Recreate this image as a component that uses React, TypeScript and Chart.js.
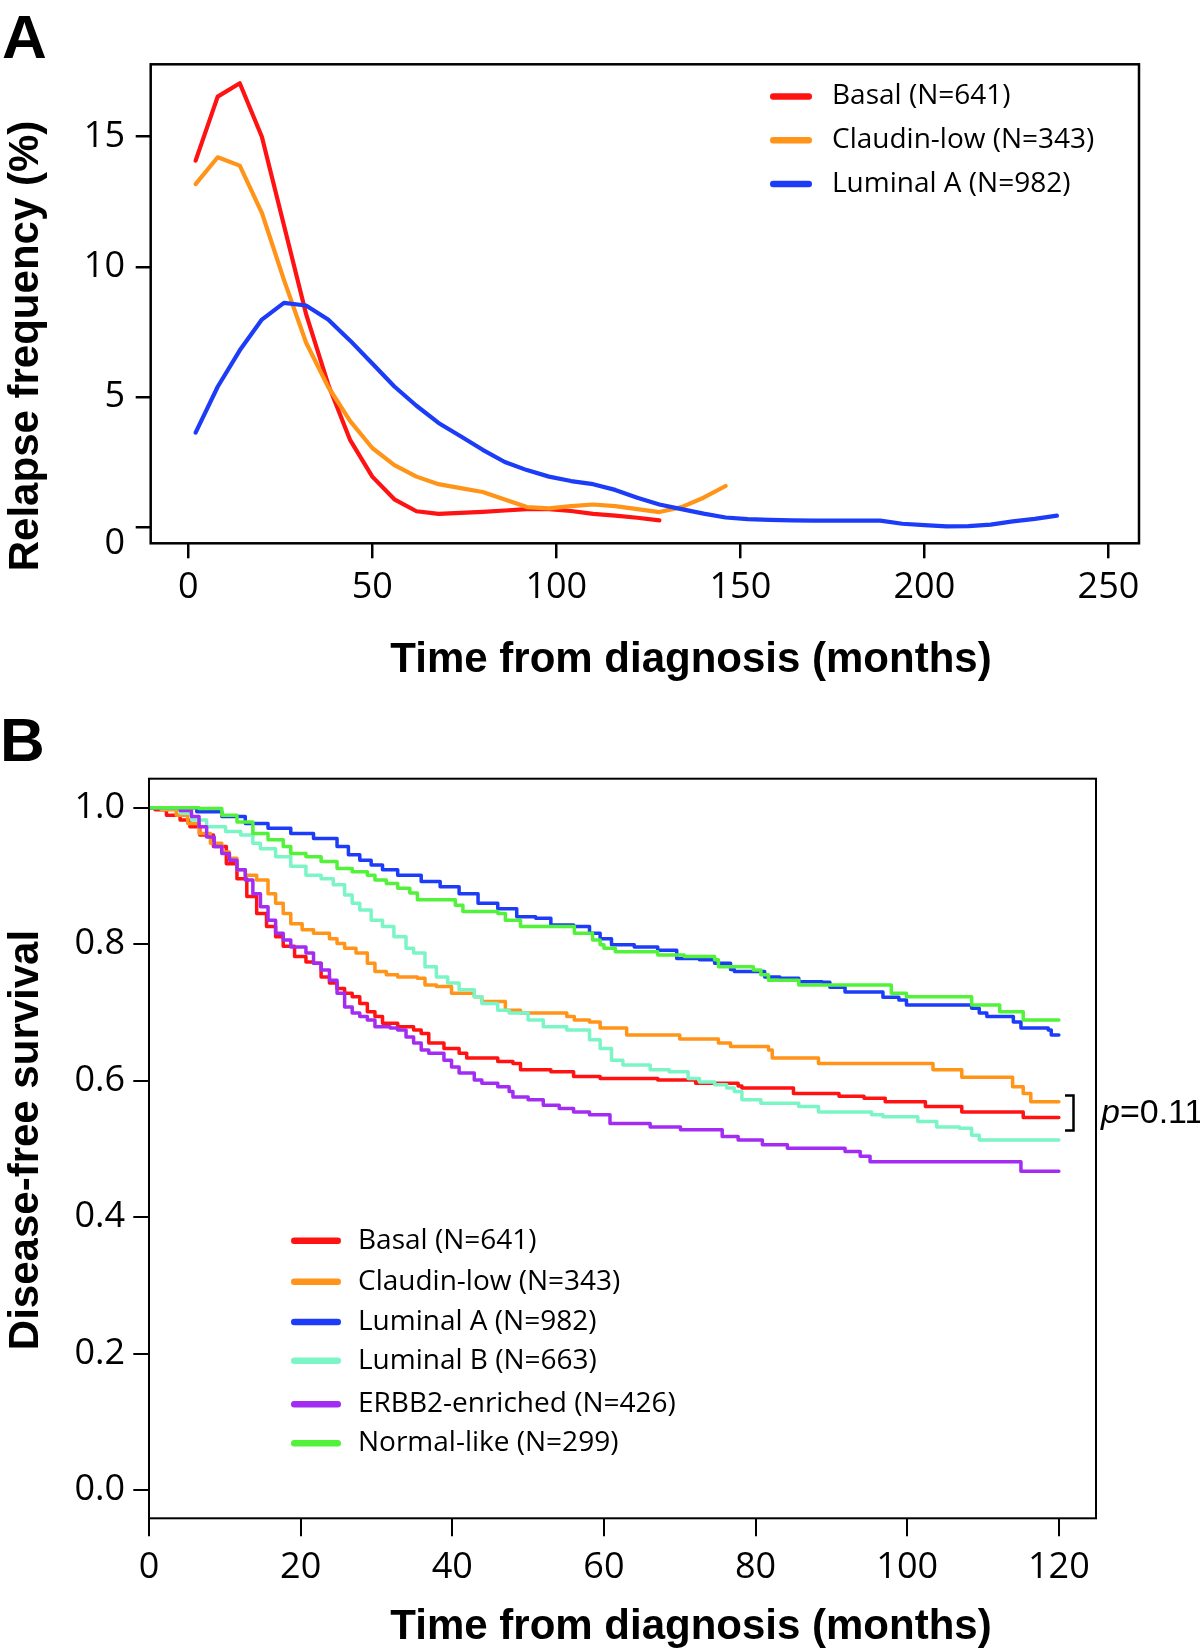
import React, { useEffect, useRef } from "react";
import { Chart, registerables } from "chart.js";

Chart.register(...registerables);

// ---------- Panel A: relapse frequency ----------
const relapseMonths = [2, 8, 14, 20, 26, 32, 38, 44, 50, 56, 62, 68, 74, 80, 86, 92, 98, 104, 110, 116, 122, 128, 134, 140, 146, 152, 158, 164, 170, 176, 182, 188, 194, 200, 206, 212, 218, 224, 230, 236];
const basalRelapse = [14.08, 16.54, 17.05, 15.0, 11.6, 8.2, 5.5, 3.35, 1.95, 1.08, 0.62, 0.52, 0.56, 0.6, 0.65, 0.7, 0.7, 0.63, 0.52, 0.45, 0.37, 0.27];
const claudinRelapse = [13.18, 14.21, 13.89, 12.08, 9.5, 7.1, 5.4, 4.08, 3.05, 2.39, 1.95, 1.66, 1.51, 1.36, 1.07, 0.78, 0.73, 0.82, 0.88, 0.82, 0.7, 0.59, 0.78, 1.14, 1.59];
const lumARelapse = [3.64, 5.4, 6.8, 7.98, 8.62, 8.52, 7.98, 7.17, 6.29, 5.41, 4.67, 4.01, 3.5, 2.98, 2.51, 2.2, 1.95, 1.78, 1.66, 1.44, 1.14, 0.88, 0.7, 0.53, 0.38, 0.32, 0.29, 0.27, 0.26, 0.26, 0.26, 0.26, 0.14, 0.09, 0.04, 0.05, 0.11, 0.23, 0.33, 0.45];
const relapseXTicks = [0, 50, 100, 150, 200, 250];
const relapseYTicks = [0, 5, 10, 15];
const relapseLegend = ["Basal (N=641)", "Claudin-low (N=343)", "Luminal A (N=982)"];

// ---------- Panel B: disease-free survival (Kaplan-Meier steps) ----------
const basalMonths = [0, 0.8, 2.3, 4.1, 5.4, 6.7, 8.5, 10.2, 11.6, 12.9, 14.2, 15.5, 16.7, 17.7, 19.2, 20.7, 21.7, 22.7, 23.8, 24.8, 25.8, 26.8, 27.8, 28.8, 29.8, 30.8, 32.8, 34.9, 35.9, 36.9, 38.9, 40.9, 41.9, 46.0, 48.0, 49.0, 53.0, 56.0, 59.5, 67.1, 72.1, 77.7, 78.2, 85.0, 91.0, 94.3, 97.1, 102.4, 107.2, 115.3, 120];
const basalSurv = [1, 0.997, 0.989, 0.982, 0.972, 0.96, 0.943, 0.918, 0.896, 0.87, 0.845, 0.826, 0.811, 0.797, 0.782, 0.774, 0.772, 0.752, 0.743, 0.735, 0.728, 0.723, 0.713, 0.701, 0.694, 0.684, 0.679, 0.674, 0.669, 0.655, 0.647, 0.64, 0.633, 0.628, 0.625, 0.616, 0.613, 0.606, 0.603, 0.601, 0.596, 0.592, 0.589, 0.581, 0.577, 0.574, 0.569, 0.562, 0.554, 0.546, 0.546];

const claudinMonths = [0, 1.6, 3.6, 5.1, 6.6, 8.1, 9.6, 10.6, 11.6, 12.7, 14.2, 15.7, 16.7, 17.7, 18.7, 20.2, 21.7, 23.8, 24.8, 25.8, 27.3, 28.8, 29.8, 31.3, 32.8, 35.4, 36.4, 37.9, 39.9, 42.9, 43.9, 47.0, 49.0, 55.1, 56.1, 58.1, 59.5, 63.0, 70.0, 75.1, 76.7, 81.7, 82.2, 88.3, 103.4, 107.2, 113.9, 115.3, 116.3, 120];
const claudinSurv = [1, 0.997, 0.989, 0.977, 0.962, 0.948, 0.935, 0.926, 0.909, 0.901, 0.894, 0.874, 0.86, 0.845, 0.83, 0.821, 0.816, 0.808, 0.801, 0.794, 0.787, 0.772, 0.76, 0.755, 0.752, 0.75, 0.74, 0.738, 0.728, 0.723, 0.716, 0.703, 0.699, 0.694, 0.689, 0.686, 0.677, 0.667, 0.661, 0.655, 0.65, 0.645, 0.633, 0.625, 0.616, 0.605, 0.591, 0.581, 0.569, 0.569];

const lumAMonths = [0, 6.3, 9.6, 12.7, 15.7, 18.7, 21.7, 24.8, 26.3, 27.8, 29.3, 30.8, 32.8, 35.9, 38.4, 40.9, 43.4, 46.0, 48.5, 51.0, 53.0, 56.0, 58.1, 59.5, 61.0, 64.0, 67.1, 69.6, 72.6, 74.6, 76.7, 77.2, 81.2, 83.2, 85.7, 88.8, 89.8, 91.8, 96.8, 98.9, 99.9, 108.5, 109.5, 110.5, 114.0, 115.0, 118.6, 119.0, 120];
const lumASurv = [1, 0.994, 0.987, 0.977, 0.97, 0.962, 0.955, 0.943, 0.931, 0.923, 0.916, 0.909, 0.901, 0.892, 0.884, 0.874, 0.86, 0.852, 0.84, 0.838, 0.828, 0.826, 0.816, 0.808, 0.799, 0.796, 0.791, 0.779, 0.777, 0.772, 0.763, 0.76, 0.752, 0.75, 0.745, 0.744, 0.737, 0.73, 0.722, 0.718, 0.711, 0.706, 0.699, 0.694, 0.686, 0.677, 0.674, 0.667, 0.667];

const lumBMonths = [0, 1.6, 4.1, 5.6, 7.6, 10.1, 12.1, 13.7, 14.7, 16.7, 18.7, 20.7, 22.7, 24.3, 25.8, 26.8, 27.8, 29.3, 30.8, 32.3, 33.9, 34.9, 36.4, 37.9, 39.4, 40.9, 42.9, 43.9, 46.0, 47.5, 50.0, 52.0, 55.1, 58.1, 59.5, 61.0, 62.5, 66.1, 68.6, 71.1, 72.6, 74.6, 76.2, 77.2, 78.2, 80.7, 85.7, 88.3, 95.3, 96.8, 101.4, 103.9, 106.9, 108.5, 109.5, 120];
const lumBSurv = [1, 0.999, 0.992, 0.982, 0.972, 0.965, 0.96, 0.948, 0.94, 0.928, 0.914, 0.901, 0.896, 0.887, 0.872, 0.86, 0.85, 0.835, 0.826, 0.811, 0.794, 0.787, 0.767, 0.752, 0.743, 0.733, 0.723, 0.713, 0.703, 0.699, 0.689, 0.679, 0.674, 0.66, 0.647, 0.63, 0.623, 0.616, 0.613, 0.603, 0.598, 0.594, 0.589, 0.584, 0.572, 0.567, 0.562, 0.554, 0.55, 0.547, 0.54, 0.532, 0.53, 0.52, 0.513, 0.513];

const erbb2Months = [0, 4.1, 5.6, 6.6, 7.6, 8.6, 9.6, 10.6, 11.6, 12.7, 13.7, 14.7, 15.7, 16.7, 17.7, 18.7, 20.7, 21.7, 22.7, 23.8, 24.8, 25.8, 26.8, 27.8, 28.8, 29.8, 31.8, 32.8, 33.9, 34.9, 35.9, 36.9, 38.9, 39.9, 40.9, 42.9, 43.9, 46.0, 47.5, 48.0, 50.0, 52.0, 54.1, 56.0, 58.1, 60.8, 66.1, 70.1, 75.6, 77.7, 80.9, 84.2, 91.8, 93.8, 95.1, 115.0, 120];
const erbb2Surv = [1, 0.996, 0.987, 0.972, 0.957, 0.943, 0.933, 0.923, 0.909, 0.894, 0.874, 0.855, 0.835, 0.816, 0.806, 0.796, 0.787, 0.772, 0.762, 0.747, 0.728, 0.708, 0.699, 0.694, 0.689, 0.679, 0.677, 0.674, 0.664, 0.655, 0.645, 0.64, 0.63, 0.62, 0.611, 0.601, 0.596, 0.591, 0.584, 0.576, 0.572, 0.564, 0.559, 0.554, 0.55, 0.537, 0.532, 0.528, 0.518, 0.513, 0.506, 0.501, 0.496, 0.489, 0.481, 0.467, 0.467];

const normalMonths = [0, 6.6, 9.6, 11.6, 13.7, 15.7, 17.7, 18.7, 20.7, 22.7, 24.8, 26.8, 28.8, 29.8, 31.3, 32.8, 34.4, 35.4, 40.4, 41.4, 46.0, 47.0, 49.0, 56.1, 58.5, 59.5, 60.0, 61.5, 67.1, 70.6, 74.6, 75.1, 79.7, 80.7, 81.7, 85.7, 97.9, 99.9, 108.5, 112.2, 115.3, 120];
const normalSurv = [1, 0.999, 0.989, 0.979, 0.962, 0.953, 0.943, 0.933, 0.928, 0.921, 0.911, 0.906, 0.901, 0.894, 0.889, 0.882, 0.875, 0.865, 0.857, 0.848, 0.845, 0.835, 0.826, 0.816, 0.806, 0.799, 0.794, 0.789, 0.784, 0.782, 0.777, 0.767, 0.762, 0.755, 0.747, 0.74, 0.728, 0.723, 0.711, 0.701, 0.689, 0.689];

const survXTicks = [0, 20, 40, 60, 80, 100, 120];
const survYTicks = [0, 0.2, 0.4, 0.6, 0.8, 1.0];
const survLegend = ["Basal (N=641)", "Claudin-low (N=343)", "Luminal A (N=982)", "Luminal B (N=663)", "ERBB2-enriched (N=426)", "Normal-like (N=299)"];
const pBracket = [0.578, 0.527];
const pLabel = "=0.11";

// ---------- styling ----------
const RED = "#FF1212";
const ORANGE = "#FF9418";
const BLUE = "#1C3CF8";
const AQUA = "#7CF5C6";
const PURPLE = "#A22CF2";
const GREEN = "#52F23A";
const TICK_FONT = '"Open Sans", sans-serif';
const TITLE_FONT = '"Liberation Sans", Arial, sans-serif';

const pts = (xs: number[], ys: number[]) => ys.map((y, i) => ({ x: xs[i], y }));

function drawTitles(ctx: CanvasRenderingContext2D, xTitle: string, xTitleY: number, yTitle: string, yTitleCenter: number, letter: string, letterX: number, letterY: number) {
  ctx.save();
  ctx.fillStyle = "#000";
  ctx.font = `bold 42px ${TITLE_FONT}`;
  ctx.textAlign = "center";
  ctx.textBaseline = "alphabetic";
  ctx.fillText(xTitle, 691, xTitleY);
  ctx.save();
  ctx.translate(38, yTitleCenter);
  ctx.rotate(-Math.PI / 2);
  ctx.fillText(yTitle, 0, 0);
  ctx.restore();
  ctx.font = `bold 62px ${TITLE_FONT}`;
  ctx.textAlign = "left";
  ctx.fillText(letter, letterX, letterY);
  ctx.restore();
}

function drawLegend(ctx: CanvasRenderingContext2D, labels: string[], colors: string[], ys: number[], x0: number, x1: number, tx: number) {
  ctx.save();
  ctx.lineCap = "round";
  ctx.lineWidth = 6.5;
  ctx.font = `28px ${TICK_FONT}`;
  ctx.textBaseline = "middle";
  ctx.textAlign = "left";
  labels.forEach((lab, i) => {
    ctx.strokeStyle = colors[i];
    ctx.beginPath();
    ctx.moveTo(x0 + 3.25, ys[i]);
    ctx.lineTo(x1 - 3.25, ys[i]);
    ctx.stroke();
    ctx.fillStyle = "#000";
    ctx.fillText(lab, tx, ys[i]);
  });
  ctx.restore();
}

const panelAPlugin = {
  id: "panelA",
  afterDraw(chart: any) {
    const { ctx, chartArea: a } = chart;
    ctx.save();
    ctx.strokeStyle = "#000";
    ctx.lineWidth = 2.5;
    ctx.strokeRect(a.left, a.top, a.right - a.left, a.bottom - a.top);
    ctx.restore();
    drawLegend(ctx, relapseLegend, [RED, ORANGE, BLUE], [96.4, 140.2, 184], 770, 812, 832);
    drawTitles(ctx, "Time from diagnosis (months)", 672, "Relapse frequency (%)", 346, "A", 2, 58);
  },
};

const panelBPlugin = {
  id: "panelB",
  afterDraw(chart: any) {
    const { ctx, chartArea: a, scales } = chart;
    ctx.save();
    ctx.strokeStyle = "#000";
    ctx.lineWidth = 2;
    ctx.strokeRect(a.left, a.top, a.right - a.left, a.bottom - a.top);
    // bracket + p value
    const y0 = scales.y.getPixelForValue(pBracket[0]);
    const y1 = scales.y.getPixelForValue(pBracket[1]);
    ctx.lineWidth = 2.5;
    ctx.beginPath();
    ctx.moveTo(1065, y0);
    ctx.lineTo(1073.5, y0);
    ctx.lineTo(1073.5, y1);
    ctx.lineTo(1065, y1);
    ctx.stroke();
    ctx.fillStyle = "#000";
    ctx.textBaseline = "alphabetic";
    ctx.textAlign = "left";
    ctx.font = `italic 34px ${TITLE_FONT}`;
    ctx.fillText("p", 1101, 433);
    const w = ctx.measureText("p").width;
    ctx.font = `34px ${TITLE_FONT}`;
    ctx.fillText(pLabel, 1101 + w, 433);
    ctx.restore();
    const off = 690;
    drawLegend(
      ctx,
      survLegend,
      [RED, ORANGE, BLUE, AQUA, PURPLE, GREEN],
      [1240.7 - off, 1281.7 - off, 1322 - off, 1360.7 - off, 1404.3 - off, 1443.3 - off],
      291,
      341,
      358
    );
    drawTitles(ctx, "Time from diagnosis (months)", 1639 - off, "Disease-free survival", 1140 - off, "B", 0, 761 - off);
  },
};

function axisCommon(tickLen: number, lw: number, pad: number) {
  return {
    type: "linear" as const,
    border: { display: false },
    grid: { display: true, drawOnChartArea: false, drawTicks: true, tickLength: tickLen, color: "#000", lineWidth: lw },
    ticks: { color: "#000", font: { family: TICK_FONT, size: 36 }, padding: pad, autoSkip: false, maxRotation: 0, minRotation: 0 },
  };
}

export default function App() {
  const refA = useRef<HTMLCanvasElement>(null);
  const refB = useRef<HTMLCanvasElement>(null);

  useEffect(() => {
    const lineDs = (label: string, xs: number[], ys: number[], color: string, order: number, width: number, stepped: any) => ({
      label,
      data: pts(xs, ys),
      borderColor: color,
      backgroundColor: color,
      borderWidth: width,
      pointRadius: 0,
      pointHoverRadius: 0,
      tension: 0,
      fill: false,
      stepped,
      order,
      borderCapStyle: "round" as const,
      borderJoinStyle: "round" as const,
    });

    const axA_x: any = axisCommon(15, 2.5, 8);
    const axA_y: any = axisCommon(15, 2.5, 10.7);
    axA_y.ticks = { ...axA_y.ticks, font: { family: TICK_FONT, size: 36, lineHeight: 0.9 }, callback: (v: number) => (v === 0 ? ["", "0"] : String(v)) };
    axA_x.ticks = { ...axA_x.ticks, callback: (v: number) => String(v) };

    const chartA = new Chart(refA.current!, {
      type: "line",
      data: {
        datasets: [
          lineDs(relapseLegend[0], relapseMonths, basalRelapse, RED, 3, 4.2, false),
          lineDs(relapseLegend[1], relapseMonths, claudinRelapse, ORANGE, 2, 4.2, false),
          lineDs(relapseLegend[2], relapseMonths, lumARelapse, BLUE, 1, 4.2, false),
        ],
      },
      options: {
        responsive: false,
        maintainAspectRatio: false,
        animation: false,
        devicePixelRatio: 1,
        events: [],
        layout: { padding: { left: 0, top: 64.3, right: 61, bottom: 46.7 } },
        plugins: { legend: { display: false }, tooltip: { enabled: false } },
        scales: {
          x: {
            ...axA_x,
            min: -10.2,
            max: 258.3,
            afterBuildTicks: (s: any) => { s.ticks = relapseXTicks.map((v) => ({ value: v })); },
            afterFit: (s: any) => { s.height = 100; },
          },
          y: {
            ...axA_y,
            min: -0.61,
            max: 17.78,
            afterBuildTicks: (s: any) => { s.ticks = relapseYTicks.map((v) => ({ value: v })); },
            afterFit: (s: any) => { s.width = 150.7; },
          },
        },
      } as any,
      plugins: [panelAPlugin],
    });

    const axB_x: any = axisCommon(18, 2, 10);
    const axB_y: any = axisCommon(15.7, 2, 8.3);
    axB_x.ticks = { ...axB_x.ticks, callback: (v: number) => String(v) };
    axB_y.ticks = { ...axB_y.ticks, callback: (v: number) => v.toFixed(1) };

    const chartB = new Chart(refB.current!, {
      type: "line",
      data: {
        datasets: [
          lineDs(survLegend[0], basalMonths, basalSurv, RED, 6, 3.5, "before"),
          lineDs(survLegend[1], claudinMonths, claudinSurv, ORANGE, 5, 3.5, "before"),
          lineDs(survLegend[2], lumAMonths, lumASurv, BLUE, 4, 3.5, "before"),
          lineDs(survLegend[3], lumBMonths, lumBSurv, AQUA, 3, 3.5, "before"),
          lineDs(survLegend[4], erbb2Months, erbb2Surv, PURPLE, 2, 3.5, "before"),
          lineDs(survLegend[5], normalMonths, normalSurv, GREEN, 1, 3.5, "before"),
        ],
      },
      options: {
        responsive: false,
        maintainAspectRatio: false,
        animation: false,
        devicePixelRatio: 1,
        events: [],
        layout: { padding: { left: 0, top: 88.7, right: 104, bottom: 30.7 } },
        plugins: { legend: { display: false }, tooltip: { enabled: false } },
        scales: {
          x: {
            ...axB_x,
            min: 0,
            max: 124.9,
            afterBuildTicks: (s: any) => { s.ticks = survXTicks.map((v) => ({ value: v })); },
            afterFit: (s: any) => { s.height = 100; },
          },
          y: {
            ...axB_y,
            min: -0.0415,
            max: 1.0425,
            afterBuildTicks: (s: any) => { s.ticks = survYTicks.map((v) => ({ value: v })); },
            afterFit: (s: any) => { s.width = 149; },
          },
        },
      } as any,
      plugins: [panelBPlugin],
    });

    return () => {
      chartA.destroy();
      chartB.destroy();
    };
  }, []);

  return (
    <div style={{ position: "absolute", left: 0, top: 0, width: 1200, height: 1649, background: "#fff", overflow: "hidden" }}>
      <canvas ref={refA} width={1200} height={690} style={{ position: "absolute", left: 0, top: 0, width: 1200, height: 690 }} />
      <canvas ref={refB} width={1200} height={959} style={{ position: "absolute", left: 0, top: 690, width: 1200, height: 959 }} />
    </div>
  );
}
